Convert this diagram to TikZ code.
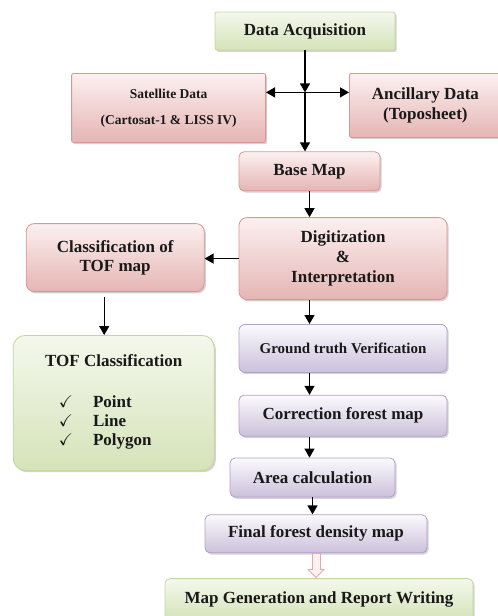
\documentclass[tikz,border=0pt]{standalone}
\usepackage{amssymb}
\usepackage{fontspec}
\setmainfont{Liberation Serif}
\usetikzlibrary{arrows.meta,positioning,shadows}
\definecolor{greentop}{HTML}{F4F8EC}
\definecolor{greenbot}{HTML}{D5E3B9}
\definecolor{greenline}{HTML}{C3D69B}
\definecolor{pinktop}{HTML}{FCF0F0}
\definecolor{pinkbot}{HTML}{E5B5B4}
\definecolor{pinkline}{HTML}{D99694}
\definecolor{violettop}{HTML}{FBFAFD}
\definecolor{violetbot}{HTML}{CBC0DA}
\definecolor{violetline}{HTML}{B3A2C7}
\begin{document}
\begin{tikzpicture}[
  font=\fontsize{17}{20}\selectfont\bfseries,
  >={Triangle[length=9pt,width=10pt]},
  box/.style={rounded corners=4pt,align=center,inner sep=3pt,text=black!90,line width=0.8pt,
    drop shadow={shadow xshift=1.6pt,shadow yshift=-1.8pt,opacity=0.35}},
  greenbox/.style={box,draw=greenline,top color=greentop,bottom color=greenbot},
  pinkbox/.style={box,draw=pinkline,top color=pinktop,bottom color=pinkbot},
  violetbox/.style={box,draw=violetline,top color=violettop,bottom color=violetbot},
  flow/.style={->,line width=1.3pt},
  hollow/.style={line width=9pt,draw=pinkline!80,-{Triangle[length=9pt,width=17pt]}},
]
\useasboundingbox (0,0) rectangle (498pt,-616pt);
% ---- top: acquisition and the two data sources ----
\node[greenbox,rounded corners=2pt,minimum width=180pt,minimum height=38pt] (acq) at (305pt,-31pt) {Data Acquisition};
\coordinate[below=42pt of acq] (split);
\node[pinkbox,rounded corners=2pt,minimum width=194pt,minimum height=69pt,left=39pt of split,yshift=-15.5pt,
  font=\fontsize{13.5}{26}\selectfont\bfseries] (sat) {Satellite Data\\(Cartosat-1 \& LISS IV)};
\node[pinkbox,rounded corners=2pt,minimum width=152pt,minimum height=64pt,right=44pt of split,yshift=-13pt] (anc) {Ancillary Data\\(Toposheet)};
\node[pinkbox,rounded corners=5pt,minimum width=141pt,minimum height=39pt,below=101pt of acq,xshift=4.5pt] (base) {Base Map};
% ---- middle: interpretation and TOF branch ----
\node[pinkbox,rounded corners=8pt,minimum width=208pt,minimum height=82pt,below=26pt of base,xshift=33.5pt] (digit) {Digitization\\\&\\Interpretation};
\node[pinkbox,rounded corners=8pt,minimum width=178pt,minimum height=68pt,left=34pt of digit,yshift=1pt,
  font=\fontsize{17}{19}\selectfont\bfseries] (cls) {Classification of\\TOF map};
\node[greenbox,rounded corners=12pt,minimum width=201pt,minimum height=135pt,below=43pt of cls,xshift=-1.5pt,
  font=\fontsize{17}{19}\selectfont\bfseries] (tof)
  {TOF Classification\\[26pt]\begin{tabular}{@{}l@{\hspace{20pt}}l@{}}$\checkmark$ & Point\\ $\checkmark$ & Line\\ $\checkmark$ & Polygon\end{tabular}\hspace*{17pt}};
% ---- lower spine ----
\node[violetbox,rounded corners=6pt,minimum width=208pt,minimum height=48pt,below=24pt of digit,
  font=\fontsize{15}{18}\selectfont\bfseries] (ground) {Ground truth Verification};
\node[violetbox,rounded corners=5pt,minimum width=208pt,minimum height=41pt,below=22pt of ground] (corr) {Correction forest map};
\node[violetbox,rounded corners=5pt,minimum width=165pt,minimum height=39pt,below=21pt of corr,xshift=-30.5pt] (area) {Area calculation};
\node[violetbox,rounded corners=5pt,minimum width=222pt,minimum height=38pt,below=17pt of area,xshift=3.5pt] (final) {Final forest density map};
\node[greenbox,rounded corners=5pt,minimum width=308pt,minimum height=42pt,below=25pt of final,xshift=3pt] (mapgen) {Map Generation and Report Writing};
% ---- connectors ----
\draw[flow] (acq) -- (split);
\draw[flow] (split) -- (sat.east |- split);
\draw[flow] (split) -- (anc.west |- split);
\draw[flow] (split) -- (split |- base.north);
\draw[flow] (base) -- (digit.north -| base);
\draw[flow] (digit.west) -- (digit.west -| cls.east);
\draw[flow,shorten <=5pt] ([xshift=-11pt]cls.south) -- ([xshift=-11pt]cls.south |- tof.north);
\draw[flow] (digit.south -| base) -- (ground.north -| base);
\draw[flow] (ground.south -| base) -- (corr.north -| base);
\draw[flow] (corr.south -| base) -- (area.north -| base);
\draw[flow] (area.south) -- (area.south |- final.north);
\draw[hollow] (final.south) -- (final.south |- mapgen.north);
\draw[line width=7pt,draw=pinktop,shorten <=0.8pt,shorten >=1.6pt,-{Triangle[length=6.5pt,width=13pt]}] (final.south) -- (final.south |- mapgen.north);
\end{tikzpicture}
\end{document}
